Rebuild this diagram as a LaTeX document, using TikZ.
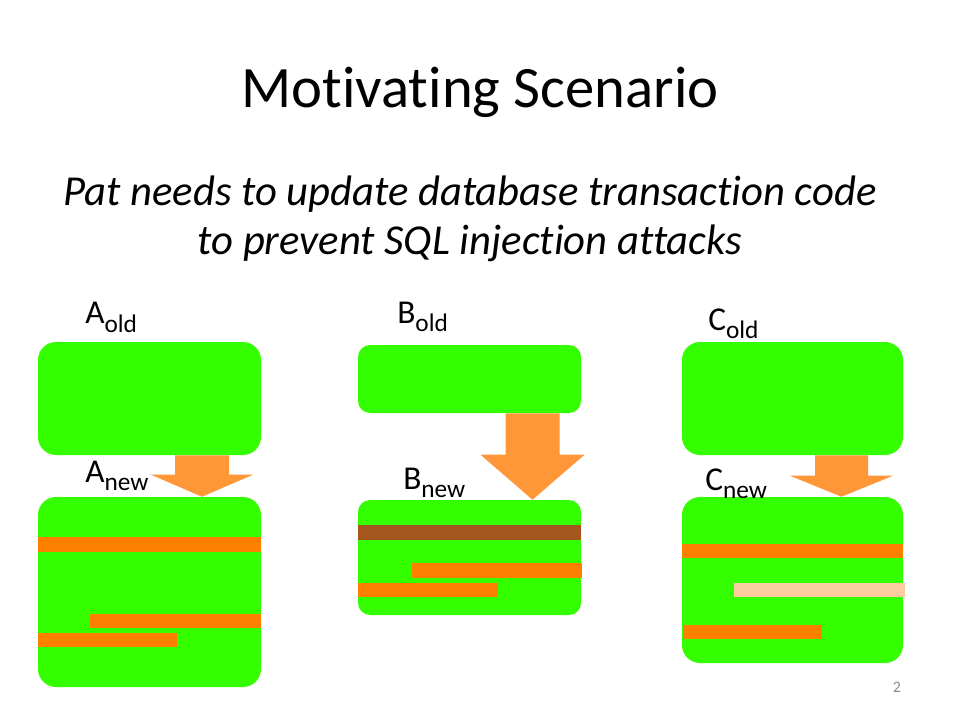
\documentclass[tikz,border=0pt]{standalone}
\usepackage{fontspec}
\setmainfont{Carlito}[Ligatures={NoCommon,NoContextual}]
\usetikzlibrary{calc,fit}
\definecolor{boxgreen}{RGB}{51,255,0}
\definecolor{barorange}{RGB}{255,128,0}
\definecolor{arroworange}{RGB}{255,150,55}
\definecolor{barbrown}{RGB}{165,85,30}
\definecolor{barpeach}{RGB}{250,204,160}
\definecolor{grey}{RGB}{140,140,140}
\newcommand{\lowtxt}[1]{\raisebox{-6.5pt}{\fontsize{19}{19}\selectfont #1}}

\begin{document}
\begin{tikzpicture}[x=0.75pt,y=-0.75pt]
    \tikzset{%
      greenbox/.style={fill=boxgreen, inner sep=0pt, rounded corners=13.5pt},
      smallbox/.style={greenbox, rounded corners=9pt},
      boxlabel/.style={anchor=base west, inner sep=0pt,
        font=\fontsize{25}{30}\selectfont},
      bar/.style={fill=barorange},
      arrowfill/.style={fill=arroworange},
    }
    \fill[white] (0,0) rectangle (960,720);
    \useasboundingbox (0,0) rectangle (960,720);

    \node[anchor=base, inner sep=0pt, font=\fontsize{44}{53}\selectfont]
      (title) at (480,108) {Motivating Scenario};
    \node[anchor=base, inner sep=0pt, align=center,
      font=\fontsize{32}{36.75}\selectfont\itshape]
      (subtitle) at (470,255) {Pat needs to update database transaction code\\
      to prevent SQL injection attacks};

    % A
    \node[greenbox, fit={(38,342) (261,455)}] (Aold) {};
    \node[greenbox, fit={(38,497) (261,687)}] (Anew) {};
    \fill[bar] (38,537) rectangle (261,552);
    \fill[bar] (90,614) rectangle (261,628);
    \fill[bar] (38,633) rectangle (177,647);
    \node[boxlabel] (Aoldlabel) at (85,324) {A\lowtxt{old}};
    \node[boxlabel] (Anewlabel) at (85,482) {A\lowtxt{new}};
    \coordinate (Atop) at ($(Aold.south)+(52.5,0)$);
    \coordinate (Atip) at (Atop |- Anew.north);
    \fill[arrowfill] ($(Atop)+(-27,0)$) -- ($(Atop)+(27,0)$)
      -- ($(Atip)+(27,-22)$) -- ($(Atip)+(51,-22)$) -- (Atip)
      -- ($(Atip)+(-51,-22)$) -- ($(Atip)+(-27,-22)$) -- cycle;

    % B
    \node[smallbox, fit={(358,345) (581,413)}] (Bold) {};
    \node[smallbox, fit={(358,500) (581,615)}] (Bnew) {};
    \fill[barbrown] (358,525) rectangle (581,540);
    \fill[bar] (412,563) rectangle (582,578);
    \fill[bar] (358,583) rectangle (498,597);
    \node[boxlabel] (Boldlabel) at (397,323) {B\lowtxt{old}};
    \node[boxlabel] (Bnewlabel) at (403,489) {B\lowtxt{new}};
    \coordinate (Btop) at ($(Bold.south)+(63,0)$);
    \coordinate (Btip) at (Btop |- Bnew.north);
    \fill[arrowfill] ($(Btop)+(-27,0)$) -- ($(Btop)+(27,0)$)
      -- ($(Btip)+(27,-45)$) -- ($(Btip)+(52,-45)$) -- (Btip)
      -- ($(Btip)+(-52,-45)$) -- ($(Btip)+(-27,-45)$) -- cycle;

    % C
    \node[greenbox, fit={(682,342) (903,455)}] (Cold) {};
    \node[greenbox, fit={(682,497) (903,663)}] (Cnew) {};
    \fill[bar] (682,544) rectangle (903,558);
    \fill[barpeach] (734,583) rectangle (905,597);
    \fill[bar] (683,625) rectangle (822,639);
    \node[boxlabel] (Coldlabel) at (708,330) {C\lowtxt{old}};
    \node[boxlabel] (Cnewlabel) at (705,490) {C\lowtxt{new}};
    \coordinate (Ctop) at ($(Cold.south)+(49,0)$);
    \coordinate (Ctip) at (Ctop |- Cnew.north);
    \fill[arrowfill] ($(Ctop)+(-26.5,0)$) -- ($(Ctop)+(26.5,0)$)
      -- ($(Ctip)+(26.5,-21)$) -- ($(Ctip)+(51.5,-21)$) -- (Ctip)
      -- ($(Ctip)+(-51.5,-21)$) -- ($(Ctip)+(-26.5,-21)$) -- cycle;

    \node[text=grey, font=\fontsize{12}{14}\selectfont] (pagenum) at (897,687) {2};
\end{tikzpicture}
\end{document}
